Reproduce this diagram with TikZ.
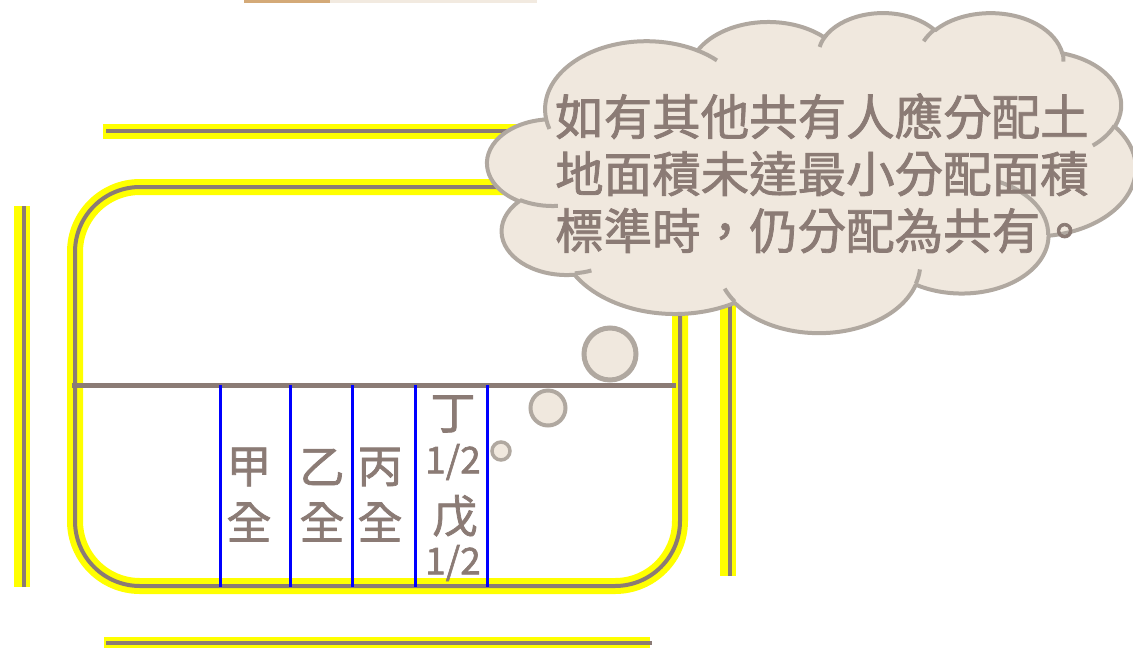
\documentclass[tikz,border=0pt]{standalone}
\usepackage{fontspec}
\setmainfont{Noto Sans CJK TC}[FakeBold=1.6]
\definecolor{taupe}{RGB}{139,123,117}
\definecolor{cloudfill}{RGB}{240,232,222}
\definecolor{cloudline}{RGB}{176,168,160}
\definecolor{tanbar}{RGB}{212,170,120}
\definecolor{lightbar}{RGB}{242,234,224}
\definecolor{yel}{RGB}{255,255,0}
\definecolor{blu}{RGB}{0,0,255}
\tikzset{
  yband/.style={draw=yel, line width=16pt},
  gline/.style={draw=taupe, line width=4pt},
  divline/.style={draw=taupe, line width=5pt},
  bline/.style={draw=blu, line width=3pt},
  cloudshape/.style={fill=cloudfill, draw=cloudline, line width=4pt, line join=round},
  cloudarc/.style={draw=cloudline, line width=4pt},
  bubble/.style={fill=cloudfill, draw=cloudline},
  lbl/.style={text=taupe, font=\fontsize{45}{50}\selectfont, inner sep=0pt, anchor=center},
  frac/.style={text=taupe, font=\fontsize{37}{40}\selectfont, inner sep=0pt, anchor=center},
  ctext/.style={text=taupe, font=\fontsize{48.5}{57}\selectfont, inner sep=0pt, anchor=base west}
}
\begin{document}
\begin{tikzpicture}[x=1pt,y=-1pt]
\useasboundingbox (0,0) rectangle (1133,649);
% top bar
\fill[tanbar] (244,0) rectangle (330,3);
\fill[lightbar] (330,0) rectangle (537,3);
% top line
\coordinate (tl1) at (103,131); \coordinate (tl2) at (650,131);
\coordinate (tg1) at (106,131);
\draw[yband, line width=15pt] (tl1) -- (tl2);
\draw[gline] (tg1) -- (tl2);
% bottom line
\coordinate (bl1) at (104,642); \coordinate (bl2) at (650,642);
\coordinate (bg1) at (106,643); \coordinate (bg2) at (652,643);
\draw[yband, line width=11pt] (bl1) -- (bl2);
\draw[gline] (bg1) -- (bg2);
% left vertical
\coordinate (lv1) at (22,206); \coordinate (lv2) at (22,587);
\coordinate (lg1) at (24,206); \coordinate (lg2) at (24,587);
\draw[yband] (lv1) -- (lv2);
\draw[gline, line width=3.5pt] (lg1) -- (lg2);
% right vertical
\coordinate (rv1) at (728,250); \coordinate (rv2) at (728,576);
\coordinate (rg1) at (730,250); \coordinate (rg2) at (730,576);
\draw[yband] (rv1) -- (rv2);
\draw[gline, line width=3.5pt] (rg1) -- (rg2);
% rounded rectangle
\draw[yband, rounded corners=65pt] (75,187) rectangle (680,586);
\draw[gline, rounded corners=65pt] (75,187) rectangle (680,586);
% divider
\coordinate (d1) at (72,385); \coordinate (d2) at (676,385);
\draw[divline] (d1) -- (d2);
% blue separators
\foreach \x/\n in {220/a,290/b,352/c,415/d,487/e}{
  \coordinate (s\n1) at (\x,385); \coordinate (s\n2) at (\x,587);
  \draw[bline] (s\n1) -- (s\n2);
}
% labels
\node[lbl] (jia) at (249,467) {甲};
\node[lbl] (jiaq) at (249,522) {全};
\node[lbl] (yi) at (322,467) {乙};
\node[lbl] (yiq) at (322,522) {全};
\node[lbl] (bing) at (380,467) {丙};
\node[lbl] (bingq) at (380,522) {全};
\node[lbl] (ding) at (453,414) {丁};
\node[frac] (dingf) at (453,462) {1/2};
\node[lbl] (wu) at (455,516) {戊};
\node[frac] (wuf) at (453,563) {1/2};
% cloud
\begin{scope}[shift={(487.5,12)}, xscale=1.5, yscale=0.7407]
\path[cloudshape] (39.00,143.70)
 arc[start angle=-187.74, end angle=-59.63, x radius=67.53, y radius=91.90]
 arc[start angle=-152.02, end angle=-45.45, x radius=53.33, y radius=72.67]
 arc[start angle=-153.48, end angle=-37.33, x radius=43.65, y radius=59.45]
 arc[start angle=-139.72, end angle=-10.21, x radius=48.57, y radius=65.95]
 arc[start angle=-74.77, end angle=23.21, x radius=53.33, y radius=72.73]
 arc[start angle=-37.53, end angle=81.87, x radius=67.75, y radius=92.20]
 arc[start angle=0.46, end angle=121.98, x radius=57.85, y radius=78.67]
 arc[start angle=16.85, end angle=146.23, x radius=67.52, y radius=92.15]
 arc[start angle=58.98, end angle=150.20, x radius=77.20, y radius=105.43]
 arc[start angle=-276.70, end angle=-136.91, x radius=43.60, y radius=59.18]
 arc[start angle=-239.65, end angle=-95.89, x radius=43.45, y radius=59.45]
 -- cycle;
\draw[cloudarc] (46.93,261.77) arc[start angle=85.54, end angle=120.35, x radius=43.45, y radius=59.45];
\draw[cloudarc] (69.28,348.99) arc[start angle=68.24, end angle=83.30, x radius=43.60, y radius=59.18];
\draw[cloudarc] (164.78,390.90) arc[start angle=146.23, end angle=158.48, x radius=67.52, y radius=92.15];
\draw[cloudarc] (288.27,347.51) arc[start angle=4.74, end angle=16.85, x radius=67.52, y radius=92.15];
\draw[cloudarc] (341.29,229.54) arc[start angle=-64.03, end angle=0.46, x radius=57.85, y radius=78.67];
\draw[cloudarc] (417.98,153.54) arc[start angle=23.21, end angle=49.64, x radius=53.33, y radius=72.73];
\draw[cloudarc] (383.24,54.26) arc[start angle=-10.21, end angle=0.82, x radius=48.57, y radius=65.95];
\draw[cloudarc] (290.78,39.52) arc[start angle=-156.30, end angle=-139.72, x radius=48.57, y radius=65.95];
\draw[cloudarc] (221.41,47.20) arc[start angle=-167.73, end angle=-150.81, x radius=43.65, y radius=59.45];
\draw[cloudarc] (140.00,51.92) arc[start angle=-59.63, end angle=-45.75, x radius=67.53, y radius=91.90];
\draw[cloudarc] (41.27,157.89) arc[start angle=163.20, end angle=172.26, x radius=67.53, y radius=91.90];
\end{scope}
\node[ctext] (c1) at (555,135) {如有其他共有人應分配土};
\node[ctext] (c2) at (555,192) {地面積未達最小分配面積};
\node[ctext] (c3) at (555,249) {標準時，仍分配為共有。};
% thought bubbles
\node[bubble, circle, line width=5pt, minimum size=52pt, inner sep=0pt] (b1) at (610,354) {};
\node[bubble, circle, line width=4pt, minimum size=35pt, inner sep=0pt] (b2) at (548,408) {};
\node[bubble, circle, line width=3.5pt, minimum size=18pt, inner sep=0pt] (b3) at (501,451) {};
\end{tikzpicture}
\end{document}
